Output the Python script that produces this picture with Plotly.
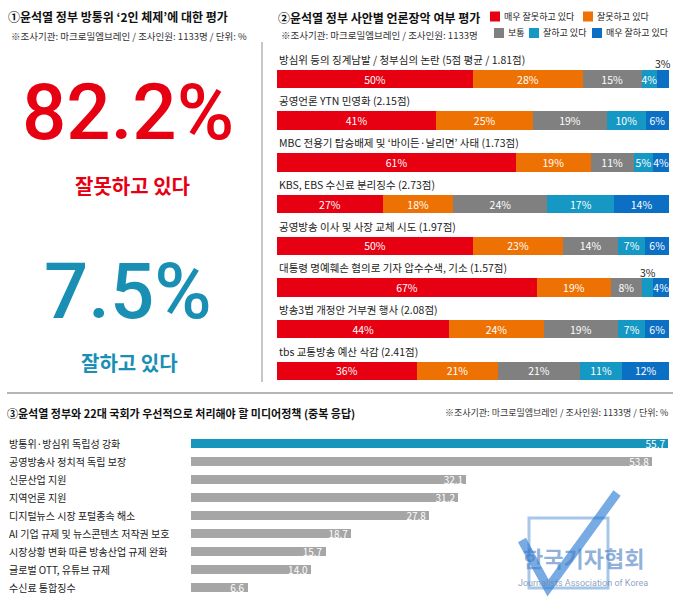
import plotly.graph_objects as go

W, H = 680, 601


def px(x):
    return x / W


def py(y):
    return 1 - y / H


# ---------------- data ----------------
overall_labels = ["잘못하고 있다", "잘하고 있다"]
overall_values = [82.2, 7.5]

issue_titles = [
    "방심위 등의 징계남발 / 청부심의 논란 (5점 평균 / 1.81점)",
    "공영언론 YTN 민영화 (2.15점)",
    "MBC 전용기 탑승배제 및 ‘바이든·날리면’ 사태 (1.73점)",
    "KBS, EBS 수신료 분리징수 (2.73점)",
    "공영방송 이사 및 사장 교체 시도 (1.97점)",
    "대통령 명예훼손 혐의로 기자 압수수색, 기소 (1.57점)",
    "방송3법 개정안 거부권 행사 (2.08점)",
    "tbs 교통방송 예산 삭감 (2.41점)",
]
response_names = ["매우 잘못하고 있다", "잘못하고 있다", "보통", "잘하고 있다", "매우 잘하고 있다"]
very_bad = [50, 41, 61, 27, 50, 67, 44, 36]
bad = [28, 25, 19, 18, 23, 19, 24, 21]
neutral = [15, 19, 11, 24, 14, 8, 19, 21]
good = [4, 10, 5, 17, 7, 3, 7, 11]
very_good = [3, 6, 4, 14, 6, 4, 6, 12]

policies = [
    "방통위·방심위 독립성 강화",
    "공영방송사 정치적 독립 보장",
    "신문산업 지원",
    "지역언론 지원",
    "디지털뉴스 시장 포털종속 해소",
    "AI 기업 규제 및 뉴스콘텐츠 저작권 보호",
    "시장상황 변화 따른 방송산업 규제 완화",
    "글로벌 OTT, 유튜브 규제",
    "수신료 통합징수",
]
policy_values = [55.7, 53.8, 32.1, 31.2, 27.8, 18.7, 15.7, 14.0, 6.6]

# ---------------- styles ----------------
FONT = "Noto Sans CJK KR, Noto Sans, sans-serif"
RED = "#e60012"
ORANGE = "#ee7203"
GRAY = "#808080"
TEAL = "#1598c3"
BLUE = "#0b6fc4"
series_colors = [RED, ORANGE, GRAY, TEAL, BLUE]
series_values = [very_bad, bad, neutral, good, very_good]
BIG_TEAL = "#1a8fb4"
BAR_TEAL = "#1695bd"
BAR_GRAY = "#a6a6a6"
TXT = "#222222"

STACK_W = 0.444
H_W = 0.55

fig = go.Figure()

# ---------------- section 2: stacked bars ----------------
n_rows = len(issue_titles)
row_idx = list(range(n_rows))
totals = [sum(s[i] for s in series_values) for i in row_idx]
small_labels = []
cum = [0.0] * n_rows
for name, vals, col in zip(response_names, series_values, series_colors):
    share = [vals[i] / totals[i] * 100 for i in row_idx]
    texts = [f"{v}%" if v >= 4 else "" for v in vals]
    fig.add_trace(go.Bar(
        x=share, y=row_idx, orientation="h", name=name,
        marker=dict(color=col, line=dict(width=0)),
        width=STACK_W, text=texts, textposition="inside",
        insidetextanchor="middle", textangle=0, constraintext="none",
        textfont=dict(color="white", size=10.5, family=FONT),
        xaxis="x", yaxis="y", showlegend=False, hoverinfo="skip",
    ))
    for i in row_idx:
        if vals[i] < 4:
            small_labels.append((cum[i] + share[i] / 2, i, vals[i]))
        cum[i] += share[i]

# ---------------- section 3: horizontal bars ----------------
fig.add_trace(go.Bar(
    x=policy_values, y=policies, orientation="h",
    marker=dict(color=[BAR_TEAL] + [BAR_GRAY] * (len(policies) - 1), line=dict(width=0)),
    width=H_W, text=[f"{v:.1f}" for v in policy_values], textposition="inside",
    insidetextanchor="end", textangle=0, constraintext="none",
    textfont=dict(color="white", size=10, family=FONT),
    xaxis="x2", yaxis="y2", showlegend=False, hoverinfo="skip",
))

annotations = []
shapes = []

# row titles above stacked bars
for i, t in enumerate(issue_titles):
    annotations.append(dict(
        text=t, xref="paper", x=px(277), xanchor="left",
        yref="y", y=i - STACK_W / 2, yanchor="bottom", yshift=1,
        showarrow=False, font=dict(size=10.5, color=TXT, family=FONT)))

for xv, i, v in small_labels:
    annotations.append(dict(
        text=f"{v}%", xref="x", x=xv, yref="y", y=i - STACK_W / 2,
        showarrow=True, arrowhead=0, arrowwidth=1, arrowcolor="#888",
        ax=0, ay=-6, font=dict(size=10.5, color=TXT, family=FONT)))

# policy labels
for p in policies:
    annotations.append(dict(
        text=p, xref="paper", x=px(7), xanchor="left",
        yref="y2", y=p, yanchor="middle",
        showarrow=False, font=dict(size=10, color=TXT, family=FONT)))

# section titles
annotations += [
    dict(text="①윤석열 정부 방통위 ‘2인 체제’에 대한 평가", xref="paper", yref="paper",
         x=px(6), y=py(17), xanchor="left", yanchor="middle", showarrow=False,
         font=dict(size=12, color="#111", family=FONT, weight="bold")),
    dict(text="※조사기관: 마크로밀엠브레인 / 조사인원: 1133명 / 단위: %", xref="paper", yref="paper",
         x=px(9), y=py(36), xanchor="left", yanchor="middle", showarrow=False,
         font=dict(size=9.5, color="#333", family=FONT)),
    dict(text="②윤석열 정부 사안별 언론장악 여부 평가", xref="paper", yref="paper",
         x=px(276), y=py(18), xanchor="left", yanchor="middle", showarrow=False,
         font=dict(size=12, color="#111", family=FONT, weight="bold")),
    dict(text="※조사기관: 마크로밀엠브레인 / 조사인원: 1133명", xref="paper", yref="paper",
         x=px(279), y=py(35), xanchor="left", yanchor="middle", showarrow=False,
         font=dict(size=9.5, color="#333", family=FONT)),
    dict(text="③윤석열 정부와 22대 국회가 우선적으로 처리해야 할 미디어정책 (중복 응답)",
         xref="paper", yref="paper", x=px(5), y=py(413), xanchor="left", yanchor="middle",
         showarrow=False, font=dict(size=11, color="#111", family=FONT, weight="bold")),
    dict(text="※조사기관: 마크로밀엠브레인 / 조사인원: 1133명 / 단위: %", xref="paper", yref="paper",
         x=px(670), y=py(413), xanchor="right", yanchor="middle", showarrow=False,
         font=dict(size=9, color="#333", family=FONT)),
]

# section 1 big numbers
big_specs = [(RED, 128, 112, 132, 186), (BIG_TEAL, 128, 291, 129, 362)]
for (col, bx, by, lx, ly), lab, val in zip(big_specs, overall_labels, overall_values):
    annotations.append(dict(
        text=f"{val}%", xref="paper", yref="paper", x=px(bx), y=py(by),
        xanchor="center", yanchor="middle", showarrow=False,
        font=dict(size=78, color=col, family="Roboto, Arial", weight=500)))
    annotations.append(dict(
        text=lab, xref="paper", yref="paper", x=px(lx), y=py(ly),
        xanchor="center", yanchor="middle", showarrow=False,
        font=dict(size=20, color=col, family=FONT, weight="bold")))

# legend (manual)
legend_pos = [(490, 16.5), (583, 16.5), (494, 33), (529, 33), (592, 33)]
for (lx, ly), name, col in zip(legend_pos, response_names, series_colors):
    shapes.append(dict(type="rect", xref="paper", yref="paper",
                       x0=px(lx), x1=px(lx + 10), y0=py(ly + 5), y1=py(ly - 5),
                       fillcolor=col, line=dict(width=0)))
    annotations.append(dict(text=name, xref="paper", yref="paper",
                            x=px(lx + 12), y=py(ly), xanchor="left", yanchor="middle",
                            showarrow=False, font=dict(size=9, color="#222", family=FONT)))

# divider lines
shapes.append(dict(type="line", xref="paper", yref="paper", x0=px(262), x1=px(262),
                   y0=py(42), y1=py(382), line=dict(color="#b5b5b5", width=1.5)))
shapes.append(dict(type="line", xref="paper", yref="paper", x0=px(7), x1=px(673),
                   y0=py(393), y1=py(393), line=dict(color="#b5b5b5", width=2)))

# watermark
shapes.append(dict(type="rect", xref="paper", yref="paper",
                   x0=px(529), x1=px(608), y0=py(588), y1=py(518),
                   line=dict(color="rgba(60,130,205,0.45)", width=3), layer="above"))
chk = [(522, 540), (548, 588), (617, 493)]
path = "M " + " L ".join(f"{px(a):.4f},{py(b):.4f}" for a, b in chk)
shapes.append(dict(type="path", xref="paper", yref="paper", path=path,
                   line=dict(color="rgba(30,115,210,0.6)", width=9), layer="above"))
annotations.append(dict(text="한국기자협회", xref="paper", yref="paper", x=px(583), y=py(557),
                        xanchor="center", yanchor="middle", showarrow=False,
                        font=dict(size=22, color="rgba(70,125,195,0.6)", family=FONT, weight="bold")))
annotations.append(dict(text="Journalists Association of Korea", xref="paper", yref="paper",
                        x=px(583), y=py(583), xanchor="center", yanchor="middle", showarrow=False,
                        font=dict(size=9, color="rgba(90,120,165,0.7)", family="Roboto, Arial")))

fig.update_layout(
    width=W, height=H, margin=dict(l=0, r=0, t=0, b=0),
    paper_bgcolor="white", plot_bgcolor="white",
    barmode="stack",
    font=dict(family=FONT, color=TXT),
    xaxis=dict(domain=[px(277), px(669)], range=[0, 100], visible=False, fixedrange=True),
    yaxis=dict(domain=[py(391.75), py(58.15)], range=[n_rows - 0.5, -0.5], visible=False,
               fixedrange=True),
    xaxis2=dict(domain=[px(191), px(671)], range=[0, 56], visible=False, anchor="y2",
                fixedrange=True),
    yaxis2=dict(domain=[py(596.5), py(434.5)], range=[len(policies) - 0.5, -0.5],
                type="category", visible=False, anchor="x2", fixedrange=True),
    annotations=annotations, shapes=shapes,
    showlegend=False,
)

fig.write_html("out.html", config={"displayModeBar": False},
               post_script="document.body.style.margin='0';")
